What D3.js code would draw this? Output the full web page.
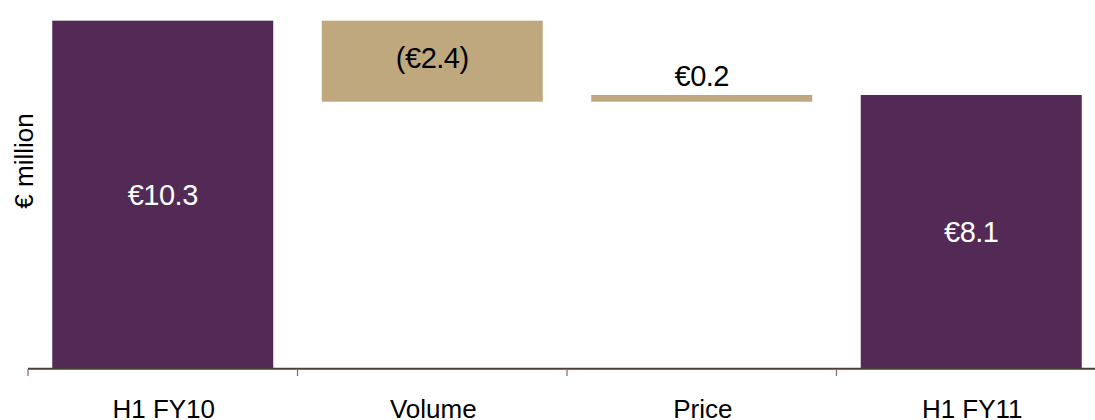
<!DOCTYPE html>
<html>
<head>
<meta charset="utf-8">
<script src="https://cdn.jsdelivr.net/npm/d3@7"></script>
<style>
  html, body { margin: 0; padding: 0; background: #ffffff; }
  svg { display: block; font-family: "Liberation Sans", Arial, sans-serif; }
</style>
</head>
<body>
<svg id="chart" width="1095" height="420"></svg>
<script>
// ---- data ----
const categories = ["H1 FY10", "Volume", "Price", "H1 FY11"];
const values = [10.3, -2.4, 0.2, 8.1];          // totals and changes
const kinds = ["total", "delta", "delta", "total"];
const valueLabels = ["€10.3", "(€2.4)", "€0.2", "€8.1"];
const yAxisTitle = "€ million";

// ---- compute waterfall segments ----
let running = 0;
const segs = categories.map((c, i) => {
  let lo, hi;
  if (kinds[i] === "total") { lo = 0; hi = values[i]; running = values[i]; }
  else { const s = running; running = running + values[i]; lo = Math.min(s, running); hi = Math.max(s, running); }
  return { cat: c, lo, hi, kind: kinds[i], label: valueLabels[i], v: values[i] };
});

const svg = d3.select("#chart");
const baseY = 368.5;
const pxPerUnit = 33.77;
const y = d3.scaleLinear().domain([0, 12]).range([baseY, baseY - 12 * pxPerUnit]);
const x = d3.scaleBand().domain(categories).range([28, 1106]).paddingInner(0.18).paddingOuter(0.09);

const purple = "#532a55";
const tan = "#bfa87e";

// bars
svg.append("g").selectAll("rect").data(segs).enter().append("rect")
  .attr("x", d => x(d.cat))
  .attr("width", x.bandwidth())
  .attr("y", d => y(d.hi))
  .attr("height", d => y(d.lo) - y(d.hi))
  .attr("fill", d => d.kind === "total" ? purple : tan);

// axis line
svg.append("line")
  .attr("x1", 28).attr("x2", 1095)
  .attr("y1", 368.7).attr("y2", 368.7)
  .attr("stroke", "#4d3f37").attr("stroke-width", 2);

// ticks at band boundaries
const step = x.step();
const tickXs = categories.map((c, i) => x(c) - x.paddingOuter() * step + (i > 0 ? (x.paddingOuter() - x.paddingInner() / 2) * step : 0) + (i > 0 ? x.paddingInner() / 2 * step - x.paddingOuter() * step + x.paddingOuter() * step - x.paddingOuter() * step + x.paddingOuter() * step : 0) * 0);
svg.append("g").selectAll("line").data(tickXs).enter().append("line")
  .attr("x1", d => d).attr("x2", d => d)
  .attr("y1", 369).attr("y2", 376)
  .attr("stroke", "#7a6e66").attr("stroke-width", 1.2);

// category labels
svg.append("g").selectAll("text").data(categories).enter().append("text")
  .attr("x", d => x(d) + x.bandwidth() / 2 + 1)
  .attr("y", 418.3)
  .attr("text-anchor", "middle")
  .attr("font-size", 26)
  .attr("fill", "#000")
  .text(d => d);

// value labels
svg.append("g").selectAll("text").data(segs).enter().append("text")
  .attr("x", d => x(d.cat) + x.bandwidth() / 2)
  .attr("y", d => {
    const h = y(d.lo) - y(d.hi);
    if (h < 30) return y(d.hi) - 9;
    return (y(d.lo) + y(d.hi)) / 2 + 10.5 - (d.kind === "delta" ? 4 : 0);
  })
  .attr("text-anchor", "middle")
  .attr("font-size", 29)
  .attr("letter-spacing", -0.5)
  .attr("fill", d => d.kind === "total" ? "#ffffff" : "#000000")
  .text(d => d.label);

// y axis title
svg.append("text")
  .attr("transform", "translate(33,161) rotate(-90)")
  .attr("text-anchor", "middle")
  .attr("font-size", 26)
  .attr("fill", "#000")
  .text(yAxisTitle);
</script>
</body>
</html>
